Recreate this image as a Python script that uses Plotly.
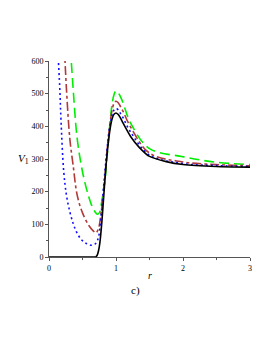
import plotly.graph_objects as go

# Black solid
r_black = [0, 0.3, 0.6, 0.68, 0.70, 0.72, 0.74, 0.76, 0.79, 0.82, 0.86, 0.91, 0.94, 0.97, 1.0, 1.03, 1.06, 1.1, 1.22, 1.35, 1.5, 1.75, 2.0, 2.5, 3.0]
v_black = [0, 0, 0, 0, 1, 6, 20, 45, 110, 195, 300, 390, 422, 437, 441, 437, 428, 412, 368, 335, 308, 292, 283, 277, 275]

# Blue dotted
r_blue = [0.13, 0.16, 0.18, 0.22, 0.26, 0.31, 0.36, 0.41, 0.48, 0.56, 0.64, 0.70, 0.74, 0.77, 0.80, 0.85, 0.90, 0.94, 0.97, 1.0, 1.03, 1.06, 1.1, 1.22, 1.5, 2.0, 2.5, 3.0]
v_blue = [640, 520, 414, 261, 190, 139, 103, 77, 54, 41, 36, 42, 62, 110, 180, 295, 390, 433, 450, 455, 451, 442, 428, 382, 312, 286, 280, 277]

# Brown dash-dot
r_brown = [0.23, 0.26, 0.31, 0.36, 0.42, 0.50, 0.60, 0.66, 0.70, 0.74, 0.78, 0.82, 0.86, 0.90, 0.94, 0.97, 1.0, 1.03, 1.06, 1.1, 1.22, 1.5, 2.0, 2.5, 3.0]
v_brown = [640, 516, 364, 281, 190, 135, 95, 80, 74, 88, 140, 210, 310, 390, 448, 470, 477, 473, 463, 448, 397, 318, 291, 283, 279]

# Green long dash
r_green = [0.32, 0.36, 0.42, 0.50, 0.585, 0.65, 0.72, 0.75, 0.78, 0.81, 0.84, 0.89, 0.93, 0.97, 1.0, 1.03, 1.06, 1.1, 1.22, 1.5, 2.0, 2.5, 3.0]
v_green = [640, 516, 364, 261, 190, 152, 131, 135, 160, 200, 245, 363, 450, 497, 508, 504, 493, 475, 409, 332, 307, 290, 283]

x_ticks = [0, 1, 2, 3]
y_ticks = [0, 100, 200, 300, 400, 500, 600]

fig = go.Figure()
fig.add_trace(go.Scatter(x=r_green, y=v_green, mode="lines",
                         line=dict(color="#00ee00", width=1.6, dash="10px,5px", shape="spline", smoothing=1)))
fig.add_trace(go.Scatter(x=r_brown, y=v_brown, mode="lines",
                         line=dict(color="#b03a3a", width=1.6, dash="dashdot", shape="spline", smoothing=1)))
fig.add_trace(go.Scatter(x=r_blue, y=v_blue, mode="lines",
                         line=dict(color="#1010ff", width=1.6, dash="2px,3px", shape="spline", smoothing=1)))
fig.add_trace(go.Scatter(x=r_black, y=v_black, mode="lines",
                         line=dict(color="black", width=1.6, shape="spline", smoothing=0.6)))

font = dict(family="Liberation Serif", size=8, color="black")
fig.update_layout(
    width=273, height=353,
    margin=dict(l=41, r=31, t=53, b=104, autoexpand=False),
    paper_bgcolor="white", plot_bgcolor="white",
    showlegend=False,
    font=font,
    xaxis=dict(range=[0, 3], tickvals=x_ticks, ticks="outside", ticklen=3, tickcolor="#555",
               showline=True, linecolor="#555", linewidth=1, showgrid=False, zeroline=False,
               minor=dict(ticks="outside", dtick=0.5, ticklen=2, tickcolor="#555"),
               tickfont=font),
    yaxis=dict(range=[0, 600], tickvals=y_ticks, ticks="outside", ticklen=3, tickcolor="#555",
               showline=True, linecolor="#555", linewidth=1, showgrid=False, zeroline=False,
               minor=dict(ticks="outside", dtick=50, ticklen=2, tickcolor="#555"),
               tickfont=font),
    annotations=[
        dict(text="<i>V</i><sub>1</sub>", x=0.0, y=0.5, xref="paper", yref="paper",
             xshift=-33, showarrow=False, font=dict(family="Liberation Serif", size=11, color="black")),
        dict(text="<i>r</i>", x=0.5, y=0, xref="paper", yref="paper",
             yshift=-26, showarrow=False, font=dict(family="Liberation Serif", size=10, color="black")),
        dict(text="c)", x=0.43, y=0, xref="paper", yref="paper",
             yshift=-42, showarrow=False, font=dict(family="Liberation Serif", size=11, color="black")),
    ],
)

fig.write_html("out.html")
